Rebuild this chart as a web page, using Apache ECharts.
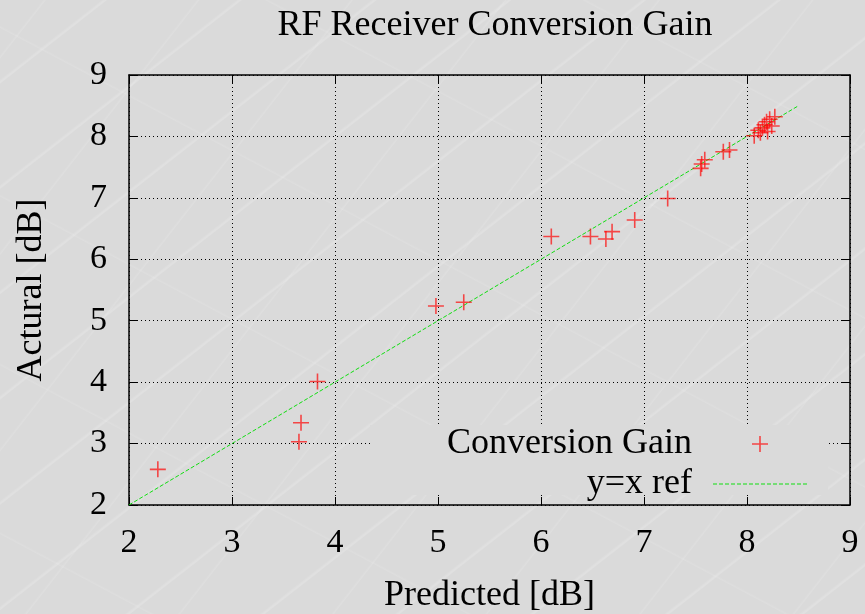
<!DOCTYPE html>
<html>
<head>
<meta charset="utf-8">
<title>RF Receiver Conversion Gain</title>
<script src="https://cdn.jsdelivr.net/npm/echarts@6/dist/echarts.min.js"></script>
<style>
  html, body { margin: 0; padding: 0; }
  body {
    width: 865px; height: 614px; overflow: hidden;
    background-color: #dadada;
    background-image:
      repeating-linear-gradient(-38deg, rgba(255,255,255,0) 0px, rgba(255,255,255,0) 37px, rgba(255,255,255,0.16) 38px, rgba(255,255,255,0.16) 39px, rgba(255,255,255,0) 41px, rgba(255,255,255,0) 83px),
      repeating-linear-gradient(-52deg, rgba(255,255,255,0) 0px, rgba(255,255,255,0) 55px, rgba(255,255,255,0.12) 56px, rgba(255,255,255,0) 58px, rgba(255,255,255,0) 121px),
      repeating-linear-gradient(28deg, rgba(255,255,255,0) 0px, rgba(255,255,255,0) 70px, rgba(255,255,255,0.10) 71px, rgba(255,255,255,0) 73px, rgba(255,255,255,0) 149px);
  }
  #chart { width: 865px; height: 614px; }
</style>
</head>
<body>
<div id="chart"></div>
<script>
// Predicted vs. actual conversion gain, in dB
const predicted = [2.28, 3.65, 3.67, 3.83, 4.98, 5.25, 6.10, 6.48, 6.63, 6.69, 6.91, 7.23,
                   7.55, 7.56, 7.59, 7.77, 7.83,
                   8.07, 8.11, 8.13, 8.15, 8.17, 8.19, 8.22, 8.24, 8.27, 8.20];
const actual    = [2.58, 3.03, 3.34, 4.01, 5.24, 5.30, 6.37, 6.37, 6.33, 6.45, 6.64, 6.99,
                   7.48, 7.55, 7.62, 7.75, 7.78,
                   8.01, 8.10, 8.06, 8.14, 8.19, 8.24, 8.28, 8.17, 8.32, 8.08];

// Reference line y = x
const refX = [2, 8.5];
const refY = [2, 8.5];

const xTicks = [2, 3, 4, 5, 6, 7, 8, 9];
const yTicks = [2, 3, 4, 5, 6, 7, 8, 9];

const seriesNames = ['Conversion Gain', 'y=x ref'];
const titleText = 'RF Receiver Conversion Gain';
const xName = 'Predicted [dB]';
const yName = 'Actural [dB]';

const FONT = '"Liberation Serif", "Times New Roman", serif';
const BG = '#dadada';
const GREEN = '#11dd11';
const PLUS = 'path://M-8,-0.8H8V0.8H-8Z M-0.8,-8H0.8V8H-0.8Z';

// dashed stroke used as the legend key of the reference line
let dashPath = 'path://';
for (let i = 0; i < 94; i += 6) dashPath += 'M' + i + ',0h4v1.2h-4Z';

const scatterData = predicted.map((p, i) => [p, actual[i]]);
const refData = refX.map((x, i) => [x, refY[i]]);

const chart = echarts.init(document.getElementById('chart'), null, { renderer: 'canvas' });

const gridLine = { show: true, lineStyle: { color: '#000', width: 1, type: [1, 3] } };
const frameLine = { show: true, lineStyle: { color: '#000', width: 1.5 } };
const innerTick = { show: true, inside: true, length: 8, lineStyle: { color: '#000', width: 1 } };

chart.setOption({
  backgroundColor: 'transparent',
  animation: false,
  textStyle: { fontFamily: FONT },
  title: {
    text: titleText,
    left: 490,
    textAlign: 'center',
    top: 3,
    textStyle: { fontFamily: FONT, fontSize: 36, fontWeight: 'normal', color: '#000' }
  },
  grid: { left: 129, right: 15, top: 75, bottom: 109, containLabel: false, outerBoundsMode: 'none' },
  legend: {
    orient: 'vertical',
    align: 'right',
    right: 58,
    top: 426,
    padding: 0,
    itemGap: 4,
    itemWidth: 94,
    itemHeight: 16,
    symbolKeepAspect: true,
    data: [
      { name: seriesNames[0], icon: PLUS },
      { name: seriesNames[1], icon: dashPath }
    ],
    textStyle: { fontFamily: FONT, fontSize: 36, color: '#000', padding: [0, 16, 0, 0] }
  },
  graphic: [{
    // the key box hides the grid behind it
    type: 'rect',
    z: 1,
    silent: true,
    shape: { x: 370, y: 425, width: 458, height: 70 },
    style: { fill: BG }
  }],
  xAxis: [{
    type: 'value',
    min: xTicks[0],
    max: xTicks[xTicks.length - 1],
    interval: 1,
    position: 'bottom',
    name: xName,
    nameLocation: 'middle',
    nameGap: 73,
    nameTextStyle: { fontFamily: FONT, fontSize: 36, color: '#000' },
    axisLine: frameLine,
    axisTick: innerTick,
    axisLabel: { fontFamily: FONT, fontSize: 34, color: '#000', margin: 21 },
    splitLine: gridLine
  }, {
    type: 'value',
    min: xTicks[0],
    max: xTicks[xTicks.length - 1],
    interval: 1,
    position: 'top',
    axisLine: frameLine,
    axisTick: innerTick,
    axisLabel: { show: false },
    splitLine: { show: false }
  }],
  yAxis: [{
    type: 'value',
    min: yTicks[0],
    max: yTicks[yTicks.length - 1],
    interval: 1,
    position: 'left',
    name: yName,
    nameLocation: 'middle',
    nameGap: 79,
    nameTextStyle: { fontFamily: FONT, fontSize: 36, color: '#000' },
    axisLine: frameLine,
    axisTick: innerTick,
    axisLabel: { fontFamily: FONT, fontSize: 34, color: '#000', margin: 22 },
    splitLine: gridLine
  }, {
    type: 'value',
    min: yTicks[0],
    max: yTicks[yTicks.length - 1],
    interval: 1,
    position: 'right',
    axisLine: frameLine,
    axisTick: innerTick,
    axisLabel: { show: false },
    splitLine: { show: false }
  }],
  series: [{
    name: seriesNames[0],
    type: 'scatter',
    symbol: PLUS,
    symbolSize: 16,
    itemStyle: { color: 'rgba(255,0,0,0.85)' },
    z: 3,
    data: scatterData
  }, {
    name: seriesNames[1],
    type: 'line',
    symbol: 'none',
    showSymbol: false,
    itemStyle: { color: GREEN },
    lineStyle: { color: GREEN, width: 1, type: [4, 2] },
    z: 2,
    data: refData
  }]
});
</script>
</body>
</html>
